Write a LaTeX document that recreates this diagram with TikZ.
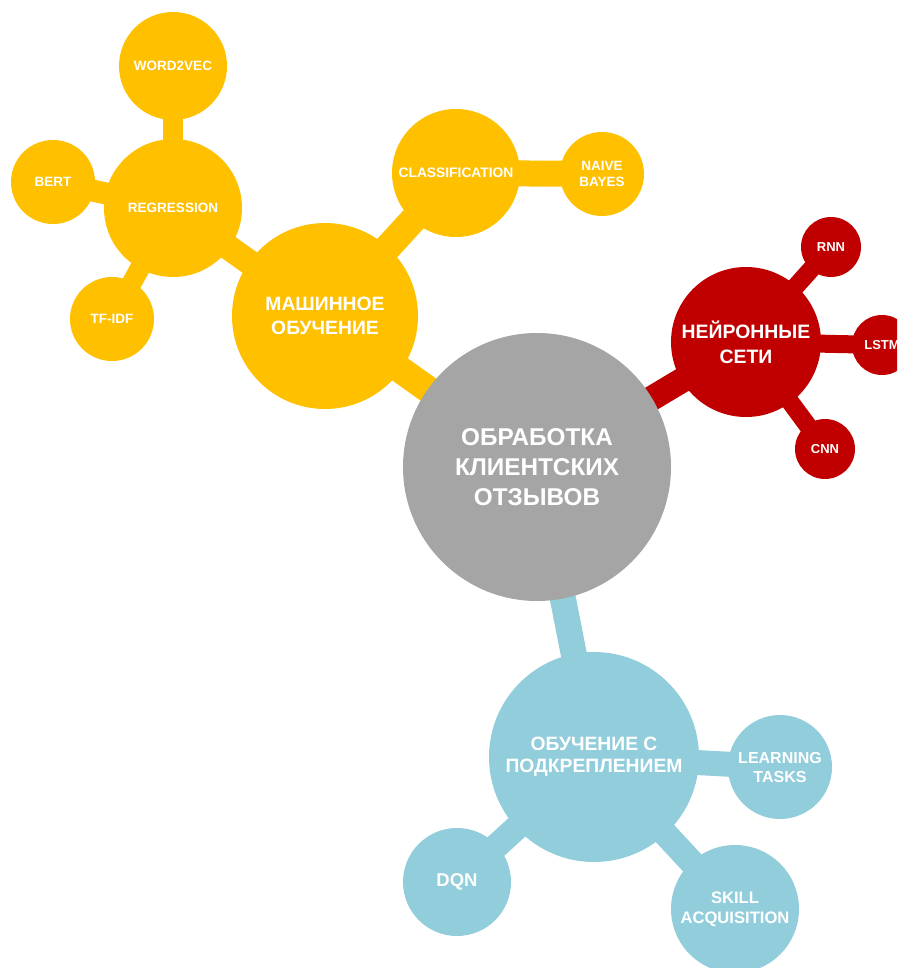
\documentclass[tikz,border=0pt]{standalone}
\usepackage{fontspec}
\setmainfont{Liberation Sans}
\usetikzlibrary{backgrounds}
\definecolor{mlyellow}{HTML}{FFC000}
\definecolor{nnred}{HTML}{C00000}
\definecolor{coregrey}{HTML}{A5A5A5}
\definecolor{rlblue}{HTML}{92CDDC}

\begin{document}
\begin{tikzpicture}[x=1pt, y=-1pt,
  bubble/.style={circle, fill=#1, inner sep=0pt, text=white, align=center},
  link/.style={line width=#1}]
  \useasboundingbox (0,0) rectangle (897,968);
  \clip (0,0) rectangle (897,968);
  % centre
  \node[bubble=coregrey, minimum size=268, font=\fontsize{24.3}{30}\selectfont\bfseries] (core) at (537,467) {ОБРАБОТКА\\КЛИЕНТСКИХ\\ОТЗЫВОВ};
  % machine learning branch
  \node[bubble=mlyellow, minimum size=186, font=\fontsize{19.3}{24}\selectfont\bfseries] (ml) at (325,316) {МАШИННОЕ\\ОБУЧЕНИЕ};
  \node[bubble=mlyellow, minimum size=138, font=\fontsize{13.5}{16}\selectfont\bfseries] (regr) at (173,208) {REGRESSION};
  \node[bubble=mlyellow, minimum size=108, font=\fontsize{13.5}{16}\selectfont\bfseries] (w2v) at (173,66) {WORD2VEC};
  \node[bubble=mlyellow, minimum size=84, font=\fontsize{13.5}{16}\selectfont\bfseries] (bert) at (53,182) {BERT};
  \node[bubble=mlyellow, minimum size=84, font=\fontsize{13.5}{16}\selectfont\bfseries] (tfidf) at (112,319) {TF-IDF};
  \node[bubble=mlyellow, minimum size=128, font=\fontsize{13.8}{16}\selectfont\bfseries] (class) at (456,173) {CLASSIFICATION};
  \node[bubble=mlyellow, minimum size=84, font=\fontsize{13.5}{16}\selectfont\bfseries] (naive) at (602,174) {NAIVE\\BAYES};
  % neural nets
  \node[bubble=nnred, minimum size=150, font=\fontsize{19.4}{25}\selectfont\bfseries] (nn) at (746,342) {НЕЙРОННЫЕ\\СЕТИ};
  \node[bubble=nnred, minimum size=60, font=\fontsize{13}{16}\selectfont\bfseries] (rnn) at (831,247) {RNN};
  \node[bubble=nnred, minimum size=60, font=\fontsize{13}{16}\selectfont\bfseries] (lstm) at (882,345) {LSTM};
  \node[bubble=nnred, minimum size=60, font=\fontsize{13}{16}\selectfont\bfseries] (cnn) at (825,449) {CNN};
  % reinforcement learning
  \node[bubble=rlblue, minimum size=210, font=\fontsize{19.3}{22}\selectfont\bfseries] (rl) at (594,757) {ОБУЧЕНИЕ С\\ПОДКРЕПЛЕНИЕМ};
  \node[bubble=rlblue, minimum size=104, font=\fontsize{16}{19}\selectfont\bfseries] (tasks) at (780,767) {LEARNING\\TASKS};
  \node[bubble=rlblue, minimum size=108, font=\fontsize{18.5}{22}\selectfont\bfseries] (dqn) at (457,882) {DQN};
  \node[bubble=rlblue, minimum size=128, font=\fontsize{16.6}{20}\selectfont\bfseries] (skill) at (735,909) {SKILL\\ACQUISITION};
  \begin{scope}[on background layer]
    \draw[link=27, mlyellow] (core.center) -- (ml.center);
    \draw[link=25, nnred] (core.center) -- (nn.center);
    \draw[link=26, rlblue] (core.center) -- (rl.center);
    \draw[link=25, mlyellow] (ml.center) -- (regr.center);
    \draw[link=27, mlyellow] (ml.center) -- (class.center);
    \draw[link=20, mlyellow] (regr.center) -- (w2v.center);
    \draw[link=22, mlyellow] (regr.center) -- (bert.center);
    \draw[link=20, mlyellow] (regr.center) -- (tfidf.center);
    \draw[link=26, mlyellow] (class.center) -- (naive.center);
    \draw[link=18, nnred] (nn.center) -- (rnn.center);
    \draw[link=18, nnred] (nn.center) -- (lstm.center);
    \draw[link=18, nnred] (nn.center) -- (cnn.center);
    \draw[link=25, rlblue] (rl.center) -- (tasks.center);
    \draw[link=25, rlblue] (rl.center) -- (dqn.center);
    \draw[link=25, rlblue] (rl.center) -- (skill.center);
  \end{scope}
\end{tikzpicture}
\end{document}
